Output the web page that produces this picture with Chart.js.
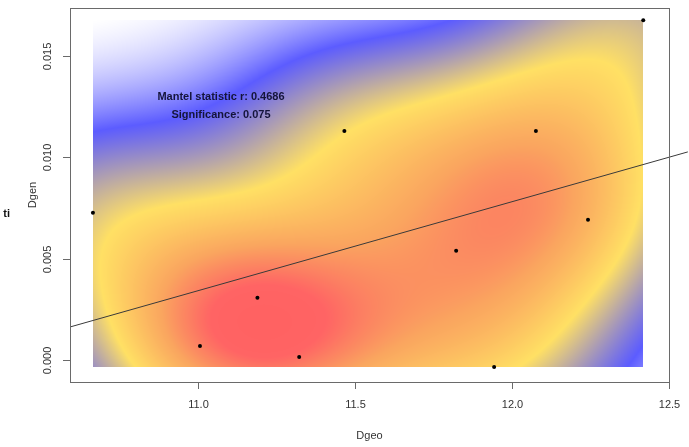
<!DOCTYPE html>
<html>
<head>
<meta charset="utf-8">
<script src="https://cdn.jsdelivr.net/npm/chart.js@4/dist/chart.umd.min.js"></script>
<style>
  html, body { margin: 0; padding: 0; background: #fff; }
  #wrap { width: 689px; height: 447px; position: relative; }
</style>
</head>
<body>
<div id="wrap"><canvas id="chart1"></canvas></div>
<script>
// geographic vs genetic distance
const dgeo = [10.665, 12.418, 11.466, 12.076, 12.242, 11.822, 11.189, 11.006, 11.322, 11.943];
const dgen = [0.00727, 0.01676, 0.01130, 0.01130, 0.00692, 0.00539, 0.00307, 0.00069, 0.00015, -0.00035];

// fitted line
const lineIntercept = -0.04487;
const lineSlope = 0.00439;
const lineX = [10.592, 12.56];

const xTicks = [11.0, 11.5, 12.0, 12.5];
const yTicks = [0.000, 0.005, 0.010, 0.015];
const xLabels = ['11.0', '11.5', '12.0', '12.5'];
const yLabels = ['0.000', '0.005', '0.010', '0.015'];
const annotation = ['Mantel statistic r: 0.4686', 'Significance: 0.075'];

const FONT = '"Liberation Sans", Arial, sans-serif';
const BW_X = 0.85, BW_Y = 1.05;

// colour ramp for the density surface (low -> high)
const ramp = [
    [0.00, [255, 255, 255]],
    [0.22, [92, 92, 255]],
    [0.52, [255, 224, 100]],
    [0.76, [250, 165, 95]],
    [0.87, [252, 125, 98]],
    [0.93, [255, 100, 100]],
    [1.00, [255, 98, 98]]
];

function rampColor(t) {
    for (let i = 1; i < ramp.length; i++) {
        if (t <= ramp[i][0]) {
            const a = ramp[i - 1], b = ramp[i];
            const f = (t - a[0]) / (b[0] - a[0] || 1);
            return a[1].map((c, k) => c + (b[1][k] - c) * f);
        }
    }
    return ramp[ramp.length - 1][1];
}

function quantile(arr, p) {
    const s = arr.slice().sort((a, b) => a - b);
    const h = (s.length - 1) * p, lo = Math.floor(h);
    return s[lo] + (h - lo) * ((s[lo + 1] ?? s[lo]) - s[lo]);
}
function sd(arr) {
    const m = arr.reduce((a, b) => a + b, 0) / arr.length;
    return Math.sqrt(arr.reduce((a, b) => a + (b - m) * (b - m), 0) / (arr.length - 1));
}
// like MASS::bandwidth.nrd, kernel sd = h/4
function kernelSd(arr, k) {
    const r = (quantile(arr, 0.75) - quantile(arr, 0.25)) / 1.34;
    return 1.06 * Math.min(sd(arr), r) * Math.pow(arr.length, -0.2) * k;
}

const densityPlugin = {
    id: 'density',
    beforeDatasetsDraw(chart) {
        const { ctx, scales: { x, y } } = chart;
        const x0 = Math.round(x.getPixelForValue(Math.min(...dgeo)));
        const x1 = Math.round(x.getPixelForValue(Math.max(...dgeo)));
        const y0 = Math.round(y.getPixelForValue(Math.max(...dgen)));
        const y1 = Math.round(y.getPixelForValue(Math.min(...dgen)));
        const w = x1 - x0, h = y1 - y0;
        const sx = kernelSd(dgeo, BW_X), sy = kernelSd(dgen, BW_Y);
        const dens = new Float32Array(w * h);
        let lo = Infinity, hi = -Infinity;
        for (let j = 0; j < h; j++) {
            const vy = y.getValueForPixel(y0 + j + 0.5);
            for (let i = 0; i < w; i++) {
                const vx = x.getValueForPixel(x0 + i + 0.5);
                let d = 0;
                for (let k = 0; k < dgeo.length; k++) {
                    const u = (vx - dgeo[k]) / sx, v = (vy - dgen[k]) / sy;
                    d += Math.exp(-0.5 * (u * u + v * v));
                }
                dens[j * w + i] = d;
                if (d < lo) lo = d;
                if (d > hi) hi = d;
            }
        }
        const off = document.createElement('canvas');
        off.width = w; off.height = h;
        const octx = off.getContext('2d');
        const img = octx.createImageData(w, h);
        for (let p = 0; p < w * h; p++) {
            const c = rampColor((dens[p] - lo) / (hi - lo));
            img.data[p * 4] = c[0];
            img.data[p * 4 + 1] = c[1];
            img.data[p * 4 + 2] = c[2];
            img.data[p * 4 + 3] = 255;
        }
        octx.putImageData(img, 0, 0);
        ctx.drawImage(off, x0, y0);
    }
};

const axesPlugin = {
    id: 'rAxes',
    afterDraw(chart) {
        const { ctx, chartArea: a, scales: { x, y } } = chart;
        ctx.save();
        ctx.strokeStyle = '#6a6a6a';
        ctx.lineWidth = 1;
        ctx.strokeRect(a.left + 0.5, a.top + 0.5, a.right - a.left, a.bottom - a.top);

        ctx.fillStyle = '#333';
        ctx.font = '11px ' + FONT;
        ctx.textAlign = 'center';
        ctx.textBaseline = 'middle';
        ctx.beginPath();
        xTicks.forEach((v, i) => {
            const px = Math.round(x.getPixelForValue(v)) + 0.5;
            ctx.moveTo(px, a.bottom);
            ctx.lineTo(px, a.bottom + 7);
            ctx.fillText(xLabels[i], px, a.bottom + 23);
        });
        yTicks.forEach((v, i) => {
            const py = Math.round(y.getPixelForValue(v)) + 0.5;
            ctx.moveTo(a.left, py);
            ctx.lineTo(a.left - 7, py);
            ctx.save();
            ctx.translate(a.left - 22, py);
            ctx.rotate(-Math.PI / 2);
            ctx.fillText(yLabels[i], 0, 0);
            ctx.restore();
        });
        ctx.stroke();

        ctx.fillText('Dgeo', (a.left + a.right) / 2, 436);
        ctx.save();
        ctx.translate(33, (a.top + a.bottom) / 2);
        ctx.rotate(-Math.PI / 2);
        ctx.fillText('Dgen', 0, 0);
        ctx.restore();

        ctx.fillStyle = '#111';
        ctx.font = 'bold 11px ' + FONT;
        ctx.textAlign = 'right';
        ctx.fillText('ti', 10, 214);

        ctx.fillStyle = '#14143a';
        ctx.textAlign = 'center';
        ctx.fillText(annotation[0], 221, 97);
        ctx.fillText(annotation[1], 221, 115);
        ctx.restore();
    }
};

window.addEventListener('load', () => {
    const ctx1 = document.getElementById('chart1').getContext('2d');
    new Chart(ctx1, {
        type: 'scatter',
        data: {
            datasets: [{
                label: 'points',
                data: dgeo.map((v, i) => ({ x: v, y: dgen[i] })),
                backgroundColor: '#000',
                borderWidth: 0,
                pointRadius: 2,
                order: 1
            }, {
                type: 'line',
                label: 'fit',
                data: lineX.map(v => ({ x: v, y: lineIntercept + lineSlope * v })),
                borderColor: '#3a3a3a',
                borderWidth: 1,
                pointRadius: 0,
                clip: false,
                order: 2
            }]
        },
        options: {
            responsive: true,
            maintainAspectRatio: false,
            animation: false,
            layout: { padding: { left: 70, right: 20, top: 8, bottom: 65 } },
            plugins: { legend: { display: false }, tooltip: { enabled: false } },
            scales: {
                x: { type: 'linear', min: 10.592, max: 12.5, display: false },
                y: { type: 'linear', min: -0.001085, max: 0.017368, display: false }
            }
        },
        plugins: [densityPlugin, axesPlugin]
    });
});
</script>
</body>
</html>
